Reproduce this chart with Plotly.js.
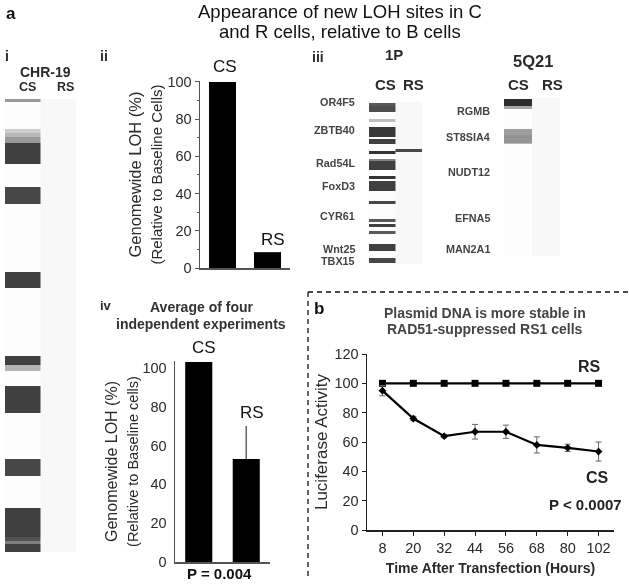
<!DOCTYPE html>
<html><head><meta charset="utf-8">
<script src="https://cdn.plot.ly/plotly-3.0.1.min.js"></script>
<style>html,body{margin:0;padding:0;background:#fff}#c{width:629px;height:584px;filter:blur(0.35px)}</style>
</head><body><div id="c"></div>
<script>
// ---- data ----
var laneNames = ['CS','RS'];
// chromosome 19 lane: band start, band length, darkness (0-1)
var chr19Length = 453;
var chr19Start = [0, 30, 34, 38, 44, 88, 173, 257, 266, 287, 360, 409, 438, 442, 445];
var chr19Size  = [3, 4, 4, 6, 21, 17, 16, 9, 6, 27, 17, 29, 4, 3, 8];
var chr19Dark  = [.4, .2, .28, .4, .75, .72, .75, .75, .3, .75, .72, .75, .68, .5, .75];
// 1P lane CS and RS bands
var p1Length = 162;
var p1Start = [1, 4, 17, 25, 37, 49, 57, 59, 74, 79, 99, 117, 122, 129, 142, 156];
var p1Size  = [3, 6, 3, 10, 5, 3, 2, 9, 3, 10, 3, 3, 3, 3, 7, 5];
var p1Dark  = [.65, .7, .25, .78, .75, .8, .5, .75, .8, .75, .72, .65, .75, .65, .75, .72];
var p1RsStart = [47], p1RsSize = [3], p1RsDark = [.72];
// 5Q21 lane CS bands
var q5Length = 158;
var q5Start = [1, 8, 31, 37, 45];
var q5Size  = [7, 3, 6, 8, 1];
var q5Dark  = [.82, .35, .38, .42, .28];
// panel ii
var ii_groups = ['CS','RS'];
var ii_values = [100, 8.5];
// panel iv
var iv_groups = ['CS','RS'];
var iv_values = [103, 53];
var iv_errors = [0, 17];
// panel b
var hours = ['8','20','32','44','56','68','80','102'];
var rsActivity = [100,100,100,100,100,100,100,100];
var csActivity = [95,76,64,67,67,58,56,53.5];
var csError = [3.5,1.5,1,5,4.5,5.5,2.5,6.5];
var genes1P = ['OR4F5','ZBTB40','Rad54L','FoxD3','CYR61','Wnt25','TBX15'];
var genes5Q = ['RGMB','ST8SIA4','NUDT12','EFNA5','MAN2A1'];

// ---- layout helpers ----
var W = 629, H = 584, FONT = 'Liberation Sans, Arial, sans-serif', INK = '#2a2a2a';
function xd(a,b){return [a/W,b/W];}
function yd(t,b){return [1-b/H,1-t/H];}
function tone(d){var g=Math.round(255*(1-d));return 'rgb('+g+','+g+','+g+')';}
function rep(v,n){var a=[];for(var i=0;i<n;i++)a.push(v);return a;}
function lanes(xa,ya,len,start,size,dark,rsStart,rsSize,rsDark){
  var t=[{type:'bar',x:laneNames,y:[len,len],base:[0,0],width:[1,1],xaxis:xa,yaxis:ya,
    marker:{color:['#fdfdfd','#f8f8f8'],line:{width:0}},hoverinfo:'skip',showlegend:false},
   {type:'bar',x:rep('CS',start.length),y:size,base:start,width:rep(1,start.length),xaxis:xa,yaxis:ya,
    marker:{color:dark.map(tone),line:{width:0}},hoverinfo:'skip',showlegend:false}];
  if(rsStart) t.push({type:'bar',x:rep('RS',rsStart.length),y:rsSize,base:rsStart,width:rep(1,rsStart.length),xaxis:xa,yaxis:ya,
    marker:{color:rsDark.map(tone),line:{width:0}},hoverinfo:'skip',showlegend:false});
  return t;
}
function gelX(a,b){return {domain:xd(a,b),type:'category',categoryorder:'array',categoryarray:laneNames,range:[-.5,1.5],visible:false,fixedrange:true};}
function gelY(t,b,len,anchor){return {domain:yd(t,b),range:[len,0],visible:false,fixedrange:true,anchor:anchor};}
function label(text,x,y,size,o){o=o||{};
  return {text:o.bold===false?text:'<b>'+text+'</b>',xref:'paper',yref:'paper',x:x/W,y:1-y/H,showarrow:false,
    xanchor:o.anchor||'center',yanchor:'middle',textangle:o.angle||0,
    font:{family:FONT,size:size,color:o.color||INK}};
}
var axisGrey='#555';
function valueAxis(dom,range,dtick,title,standoff,minor,anchor,titleSize){
  var a={domain:dom,range:range,tickmode:'linear',tick0:0,dtick:dtick,ticks:'outside',ticklen:4,tickwidth:1,tickcolor:axisGrey,
    showline:true,linecolor:axisGrey,linewidth:1.5,showgrid:false,zeroline:false,anchor:anchor,fixedrange:true,
    tickfont:{family:FONT,size:14.5,color:INK},
    title:{text:title,standoff:standoff,font:{family:FONT,size:titleSize,color:INK}}};
  if(minor) a.minor={dtick:minor,ticks:'outside',ticklen:2,tickcolor:axisGrey,showgrid:false};
  return a;
}

// ---- traces ----
var data=[];
data=data.concat(lanes('x','y',chr19Length,chr19Start,chr19Size,chr19Dark));
data=data.concat(lanes('x2','y2',p1Length,p1Start,p1Size,p1Dark,p1RsStart,p1RsSize,p1RsDark));
data=data.concat(lanes('x3','y3',q5Length,q5Start,q5Size,q5Dark));
data.push({type:'bar',x:ii_groups,y:ii_values,width:[.6,.6],xaxis:'x4',yaxis:'y4',marker:{color:'#000',line:{width:0}},showlegend:false});
data.push({type:'bar',x:iv_groups,y:iv_values,width:[.57,.57],xaxis:'x5',yaxis:'y5',marker:{color:'#000',line:{width:0}},showlegend:false,
  error_y:{type:'data',array:iv_errors,arrayminus:[0,0],symmetric:false,color:'#666',thickness:1.5,width:0}});
data.push({type:'scatter',mode:'lines+markers',x:hours,y:rsActivity,xaxis:'x6',yaxis:'y6',name:'RS',showlegend:false,
  line:{color:'#000',width:2.2},marker:{symbol:'square',size:7,color:'#000'}});
data.push({type:'scatter',mode:'lines+markers',x:hours,y:csActivity,xaxis:'x6',yaxis:'y6',name:'CS',showlegend:false,
  line:{color:'#000',width:2.2},marker:{symbol:'diamond',size:6,color:'#000'},
  error_y:{type:'data',array:csError,color:'#666',thickness:1,width:3}});

// ---- annotations ----
var notes=[
 label('a',11,14,17,{color:'#111'}),
 label('Appearance of new LOH sites in C',340,12,18.5,{bold:false,color:'#111'}),
 label('and R cells, relative to B cells',340,31,18.5,{bold:false,color:'#111'}),
 label('i',7,56,14),label('ii',104,56,14),label('iii',318,57,14),label('iv',106,305,13),
 label('CHR-19',45,72,14),label('CS',27,87,12.5),label('RS',65,87,12.5),
 label('CS',225,67,17,{bold:false,color:'#111'}),label('RS',273,239,17,{bold:false,color:'#111'}),
 label('1P',394,55,15),label('5Q21',533,61,16.5),
 label('CS',385,84,15),label('RS',413,84,15),label('CS',518,84,15),label('RS',552,84,15),
 label('Average of four',201,307,14,{color:'#333'}),label('independent experiments',201,324,14,{color:'#333'}),
 label('CS',204,347,17,{bold:false,color:'#111'}),label('RS',252,412,17,{bold:false,color:'#111'}),
 label('P = 0.004',219,573,15,{color:'#111'}),
 label('b',319,308,17,{color:'#111'}),
 label('Plasmid DNA is more stable in',485,313,14,{color:'#444'}),
 label('RAD51-suppressed RS1 cells',485,329,14,{color:'#444'}),
 label('RS',589,366,16,{color:'#222'}),label('CS',597,477,16,{color:'#222'}),
 label('P &lt; 0.0007',585,504,15,{color:'#222'})
];
var y1P=[102,130,163,186,216,249,261], y5Q=[111,137,172,218,249];
genes1P.forEach(function(g,i){notes.push(label(g,357,y1P[i],10.8,{anchor:'right',color:'#444'}));});
genes5Q.forEach(function(g,i){notes.push(label(g,492,y5Q[i],10.8,{anchor:'right',color:'#444'}));});

// ---- dashed frame of panel b ----
var shapes=[
 {type:'line',xref:'paper',yref:'paper',x0:308/W,x1:1,y0:1-292/H,y1:1-292/H,line:{color:'#111',width:1.3,dash:'5px,4px'}},
 {type:'line',xref:'paper',yref:'paper',x0:308/W,x1:308/W,y0:1-292/H,y1:1-578/H,line:{color:'#111',width:1.3,dash:'5px,4px'}}
];

var layout={width:W,height:H,margin:{l:0,r:0,t:0,b:0,pad:0},paper_bgcolor:'#fff',plot_bgcolor:'rgba(0,0,0,0)',
 barmode:'overlay',showlegend:false,font:{family:FONT},annotations:notes,shapes:shapes,
 xaxis:gelX(5,76),yaxis:gelY(99,552,chr19Length,'x'),
 xaxis2:gelX(369,422),yaxis2:gelY(102,264,p1Length,'x2'),
 xaxis3:gelX(504,560),yaxis3:gelY(98,256,q5Length,'x3'),
 xaxis4:{domain:xd(200,290),type:'category',range:[-.5,1.5],showticklabels:false,ticks:'',showgrid:false,showline:true,linecolor:axisGrey,linewidth:1.5,anchor:'y4',fixedrange:true},
 yaxis4:valueAxis(yd(81,268),[0,100.5],20,'Genomewide LOH (%)<br><span style="font-size:15px">(Relative to Baseline Cells)</span>',0,10,'x4',16.5),
 xaxis5:{domain:xd(175,270),type:'category',range:[-.5,1.5],showticklabels:false,ticks:'',showgrid:false,showline:true,linecolor:axisGrey,linewidth:1.5,anchor:'y5',fixedrange:true},
 yaxis5:valueAxis(yd(361,562),[0,103.5],20,'Genomewide LOH (%)<br><span style="font-size:14.5px">(Relative to Baseline cells)</span>',0,0,'x5',16),
 xaxis6:{domain:xd(367,614),type:'category',range:[-.5,7.5],ticks:'outside',ticklen:4,tickcolor:'#222',showgrid:false,showline:true,linecolor:'#222',linewidth:1.5,anchor:'y6',fixedrange:true,
   tickfont:{family:FONT,size:14.5,color:INK},
   title:{text:'<b>Time After Transfection (Hours)</b>',standoff:8,font:{family:FONT,size:14,color:INK}}},
 yaxis6:valueAxis(yd(354,530),[0,120],20,'Luciferase Activity',2,0,'x6',17)
};
layout.yaxis6.linecolor='#222';layout.yaxis6.tickcolor='#222';
layout.yaxis5.tickcolor='rgba(0,0,0,0)';
Plotly.newPlot('c',data,layout,{staticPlot:true,displayModeBar:false});
</script></body></html>
